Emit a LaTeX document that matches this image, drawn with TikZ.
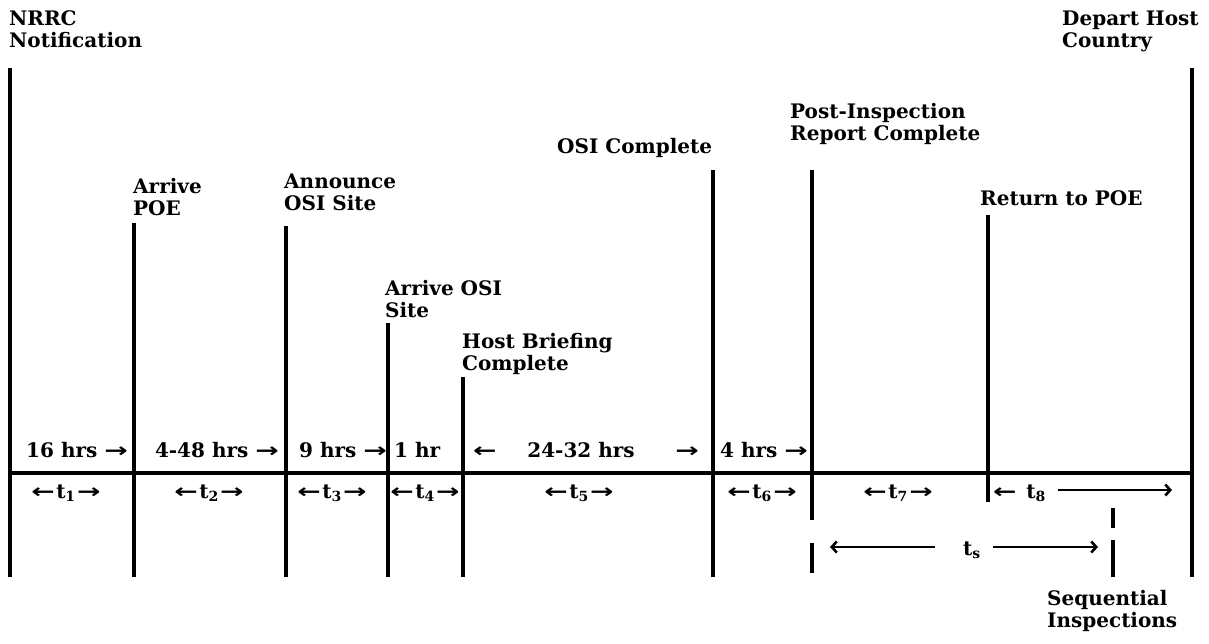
\documentclass[tikz,border=0pt]{standalone}
\usepackage{fontspec}
\usepackage{graphicx}
\setmainfont{DejaVu Serif}
\newfontfamily\arr{DejaVu Sans}
\usetikzlibrary{arrows.meta}
\newcommand\myra{\scalebox{1.4}[1]{\arr →}}
\newcommand\myla{\scalebox{1.4}[1]{\arr ←}}
\newcommand\tsym[1]{\myla\hspace{1.5pt}t\textsubscript{#1}\hspace{1.5pt}\myra}
\begin{document}
\begin{tikzpicture}[x=1pt,y=-1pt,
  lbl/.style={inner sep=0pt, align=left, font=\fontsize{20}{22}\selectfont\bfseries, text depth=0pt, anchor=south west},
  dur/.style={inner sep=0pt, font=\fontsize{20}{22}\selectfont\bfseries, anchor=base},
  tline/.style={line width=3.2pt},
  longarr/.style={line width=2.6pt, -{Straight Barb[length=5pt,width=11pt]}}]
\useasboundingbox (0,0) rectangle (1209,643);
% event labels
\node[lbl] (nrrc) at (9,48) {NRRC\\Notification};
\node[lbl] (poe)  at (133,216) {Arrive\\POE};
\node[lbl] (ann)  at (284,211) {Announce\\OSI Site};
\node[lbl] (aos)  at (385,318) {Arrive OSI\\Site};
\node[lbl] (hbc)  at (462,371) {Host Briefing\\Complete};
\node[lbl] (osic) at (557,154) {OSI Complete};
\node[lbl] (pirc) at (790,141) {Post-Inspection\\Report Complete};
\node[lbl] (rpoe) at (980,206) {Return to POE};
\node[lbl] (dhc)  at (1062,48) {Depart Host\\Country};
\node[lbl] (seq)  at (1047,628) {Sequential\\Inspections};
% vertical event lines
\coordinate (nrrcT) at (10,68);   \coordinate (nrrcB) at (10,577);
\coordinate (poeT)  at (134,223); \coordinate (poeB)  at (134,577);
\coordinate (annT)  at (286,226); \coordinate (annB)  at (286,577);
\coordinate (aosT)  at (388,323); \coordinate (aosB)  at (388,577);
\coordinate (hbcT)  at (463,377); \coordinate (hbcB)  at (463,577);
\coordinate (osicT) at (713,170); \coordinate (osicB) at (713,577);
\coordinate (pircT) at (812,170); \coordinate (pircB) at (812,520);
\coordinate (pircC) at (812,543); \coordinate (pircD) at (812,573);
\coordinate (rpoeT) at (988,215); \coordinate (rpoeB) at (988,502);
\coordinate (seqA)  at (1113,508); \coordinate (seqB) at (1113,528);
\coordinate (seqC)  at (1113,540); \coordinate (seqD) at (1113,577);
\coordinate (dhcT)  at (1192,68);  \coordinate (dhcB) at (1192,577);
\foreach \a/\b in {nrrcT/nrrcB,poeT/poeB,annT/annB,aosT/aosB,hbcT/hbcB,osicT/osicB,pircT/pircB,pircC/pircD,rpoeT/rpoeB,seqA/seqB,seqC/seqD,dhcT/dhcB}
  \draw[tline] (\a) -- (\b);
% time axis
\coordinate (axL) at (10,473); \coordinate (axR) at (1192,473);
\draw[tline] (axL) -- (axR);
% durations
\node[dur, anchor=base east] (d1) at (128,457) {16 hrs \myra};
\node[dur, anchor=base east] (d2) at (279,457) {4-48 hrs \myra};
\node[dur, anchor=base east] (d3) at (387,457) {9 hrs \myra};
\node[dur, anchor=base west] (d4) at (394,457) {1 hr};
\node[dur, anchor=base west] (d5a) at (473,457) {\myla};
\node[dur] (d5) at (581,457) {24-32 hrs};
\node[dur, anchor=base east] (d5b) at (699,457) {\myra};
\node[dur, anchor=base west] (d6) at (720,457) {4 hrs \myra};
% interval symbols
\node[dur] (t1) at (66,498)  {\tsym{1}};
\node[dur] (t2) at (209,498) {\tsym{2}};
\node[dur] (t3) at (332,498) {\tsym{3}};
\node[dur] (t4) at (425,498) {\tsym{4}};
\node[dur] (t5) at (579,498) {\tsym{5}};
\node[dur] (t6) at (762,498) {\tsym{6}};
\node[dur] (t7) at (898,498) {\tsym{7}};
\node[dur, anchor=base west] (t8l) at (993,498) {\myla};
\node[dur] (t8) at (1036,498) {t\textsubscript{8}};
\coordinate (t8a) at (1058,490); \coordinate (t8b) at (1172,490);
\draw[longarr] (t8a) -- (t8b);
\node[dur] (ts) at (972,555) {t\textsubscript{s}};
\coordinate (tsa) at (935,547); \coordinate (tsb) at (830,547);
\coordinate (tsc) at (993,547); \coordinate (tsd) at (1098,547);
\draw[longarr] (tsa) -- (tsb);
\draw[longarr] (tsc) -- (tsd);
\end{tikzpicture}
\end{document}
